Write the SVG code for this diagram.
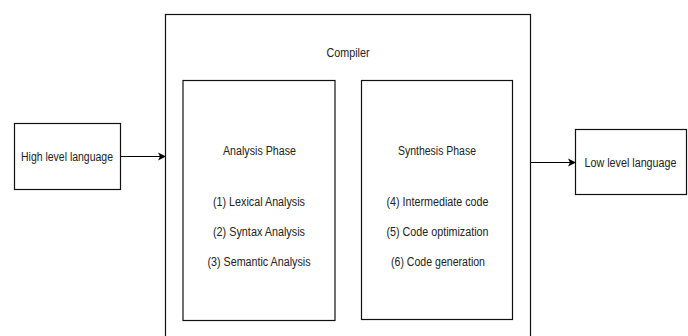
<svg xmlns="http://www.w3.org/2000/svg" width="688" height="336" viewBox="0 0 688 336">
<defs>
<style>
.box{fill:#fff;stroke:#111;stroke-width:1.2}
.t{font-family:"Liberation Sans",Arial,sans-serif;font-size:12px;fill:#222;text-anchor:middle;dominant-baseline:central}
.edge{stroke:#000;stroke-width:1.2;fill:none}
</style>
<marker id="arr" markerWidth="10" markerHeight="10" refX="8" refY="5" orient="auto" markerUnits="userSpaceOnUse">
<path d="M1,1 L9,5 L1,9 L3,5 Z" fill="#000"/>
</marker>
</defs>
<rect width="688" height="336" fill="#fff"/>
<g id="compiler">
<rect class="box" x="165.5" y="14.5" width="365" height="340"/>
<text class="t" x="348" y="53" textLength="43" lengthAdjust="spacingAndGlyphs">Compiler</text>
</g>
<g id="analysis">
<rect class="box" x="183" y="80.5" width="152" height="240"/>
<text class="t" x="259.5" y="151" textLength="73" lengthAdjust="spacingAndGlyphs">Analysis Phase</text>
<text class="t" x="259" y="201.5" textLength="92" lengthAdjust="spacingAndGlyphs">(1) Lexical Analysis</text>
<text class="t" x="259" y="231.5" textLength="92" lengthAdjust="spacingAndGlyphs">(2) Syntax Analysis</text>
<text class="t" x="259" y="261.5" textLength="103" lengthAdjust="spacingAndGlyphs">(3) Semantic Analysis</text>
</g>
<g id="synthesis">
<rect class="box" x="361.5" y="80.5" width="151" height="239"/>
<text class="t" x="437" y="151" textLength="78" lengthAdjust="spacingAndGlyphs">Synthesis Phase</text>
<text class="t" x="437.5" y="201.5" textLength="102" lengthAdjust="spacingAndGlyphs">(4) Intermediate code</text>
<text class="t" x="437.5" y="231.5" textLength="102" lengthAdjust="spacingAndGlyphs">(5) Code optimization</text>
<text class="t" x="438" y="261.5" textLength="94" lengthAdjust="spacingAndGlyphs">(6) Code generation</text>
</g>
<g id="high">
<rect class="box" x="14.5" y="123.5" width="106" height="66"/>
<text class="t" x="67" y="157" textLength="92" lengthAdjust="spacingAndGlyphs">High level language</text>
</g>
<g id="low">
<rect class="box" x="575.5" y="129.5" width="111" height="65"/>
<text class="t" x="630.5" y="163" textLength="92" lengthAdjust="spacingAndGlyphs">Low level language</text>
</g>
<g id="connectors">
<line class="edge" x1="121" y1="156.5" x2="165" y2="156.5" marker-end="url(#arr)"/>
<line class="edge" x1="531" y1="162.5" x2="575" y2="162.5" marker-end="url(#arr)"/>
</g>
</svg>
